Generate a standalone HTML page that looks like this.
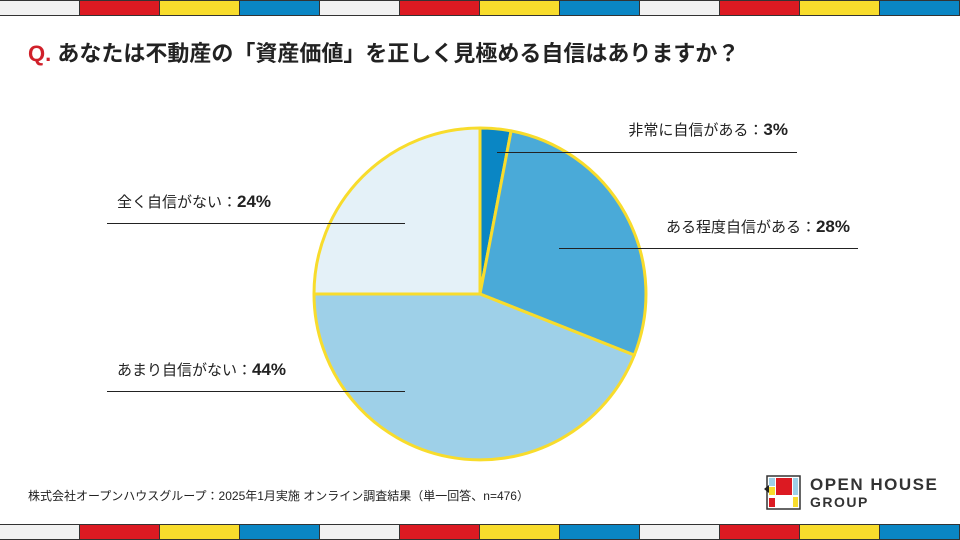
<!DOCTYPE html>
<html><head><meta charset="utf-8"><style>
body{margin:0;width:960px;height:540px;position:relative;background:#fff;font-family:"Liberation Sans","Noto Sans CJK JP",sans-serif;overflow:hidden;color:#222}
.stripe{position:absolute;left:0;width:960px;height:16px;display:flex}
.stripe div{flex:1;border:1px solid #333;border-left-width:0;box-sizing:border-box}
.w{background:#f2f2f2}.r{background:#dc1a22}.y{background:#f8dc2c}.b{background:#0a86c4}
.t{position:absolute;white-space:nowrap;font-size:15px}
.t b{font-size:17px}
</style></head><body>
<div class="stripe" style="top:0"><div class="w"></div><div class="r"></div><div class="y"></div><div class="b"></div><div class="w"></div><div class="r"></div><div class="y"></div><div class="b"></div><div class="w"></div><div class="r"></div><div class="y"></div><div class="b"></div></div>
<div class="stripe" style="top:524px"><div class="w"></div><div class="r"></div><div class="y"></div><div class="b"></div><div class="w"></div><div class="r"></div><div class="y"></div><div class="b"></div><div class="w"></div><div class="r"></div><div class="y"></div><div class="b"></div></div>
<div class="t" style="left:28px;top:36px;font-size:22px;font-weight:bold"><span style="color:#d0202a">Q.</span> あなたは不動産の「資産価値」を正しく見極める自信はありますか？</div>
<svg width="960" height="540" style="position:absolute;left:0;top:0">
<g stroke="#f8dc2c" stroke-width="3" stroke-linejoin="round">
<path d="M480,294 L480,128 A166,166 0 0 1 511.1,130.9 Z" fill="#0a86c4"/>
<path d="M480,294 L511.1,130.9 A166,166 0 0 1 634.3,355.1 Z" fill="#4aaad8"/>
<path d="M480,294 L634.3,355.1 A166,166 0 0 1 314,294 Z" fill="#9ed0e8"/>
<path d="M480,294 L314,294 A166,166 0 0 1 480,128 Z" fill="#e4f1f8"/>
</g>
<g stroke="#222" stroke-width="1">
<line x1="497" y1="152.5" x2="797" y2="152.5"/>
<line x1="559" y1="248.5" x2="858" y2="248.5"/>
<line x1="107" y1="223.5" x2="405" y2="223.5"/>
<line x1="107" y1="391.5" x2="405" y2="391.5"/>
</g>
</svg>
<div class="t" style="right:172px;top:119px">非常に自信がある：<b>3%</b></div>
<div class="t" style="right:110px;top:216px">ある程度自信がある：<b>28%</b></div>
<div class="t" style="left:117px;top:191px">全く自信がない：<b>24%</b></div>
<div class="t" style="left:117px;top:359px">あまり自信がない：<b>44%</b></div>
<div class="t" style="left:28px;top:487px;font-size:12px">株式会社オープンハウスグループ：2025年1月実施 オンライン調査結果（単一回答、n=476）</div>
<svg width="40" height="36" style="position:absolute;left:764px;top:475px">
<rect x="3" y="1" width="33" height="33" fill="#fff" stroke="#333" stroke-width="1.5"/>
<rect x="5" y="3" width="6" height="8" fill="#9ed0e8"/>
<rect x="12" y="3" width="16" height="17" fill="#dc1a22"/>
<rect x="29" y="3" width="5" height="17" fill="#9ed0e8"/>
<rect x="5" y="12" width="6" height="8" fill="#f8dc2c"/>
<rect x="5" y="23" width="6" height="9" fill="#dc1a22"/>
<rect x="29" y="22" width="5" height="10" fill="#f8dc2c"/>
<path d="M0,14 L5,10 L5,18 Z" fill="#222"/>
</svg>
<div class="t" style="left:810px;top:475px;font-size:17px;font-weight:bold;letter-spacing:1.5px;color:#333">OPEN HOUSE</div>
<div class="t" style="left:810px;top:494px;font-size:14px;font-weight:bold;letter-spacing:1.5px;color:#333">GROUP</div>
</body></html>
